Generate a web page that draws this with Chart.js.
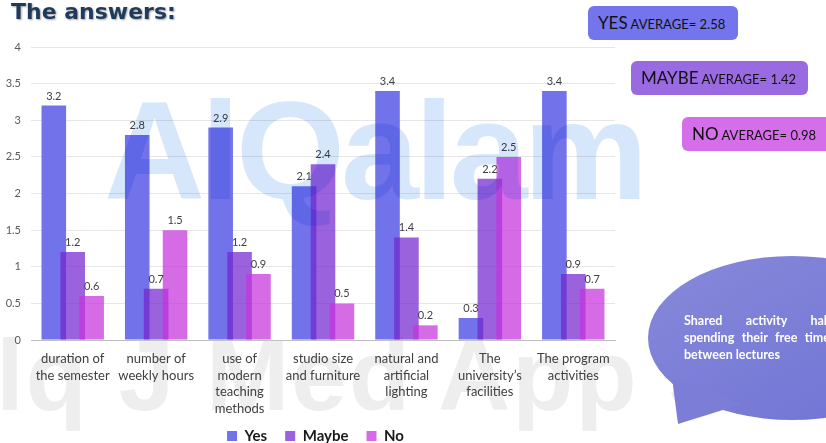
<!DOCTYPE html>
<html>
<head>
<meta charset="utf-8">
<script src="https://cdn.jsdelivr.net/npm/chart.js@4"></script>
<style>
  body { margin: 0; width: 826px; height: 443px; overflow: hidden; background: #fff; position: relative; font-family: Lato, sans-serif; }
  #chart { position: absolute; left: 0; top: 0; }
  .wm { position: absolute; pointer-events: none; mix-blend-mode: multiply; white-space: nowrap; }
  #wm1 { left: 104px; top: 70px; font: bold 140px "Liberation Sans", sans-serif; letter-spacing: -4px; color: #d6e7fc; }
  #wm2 { left: -4px; top: 318px; font: bold 100px "Liberation Sans", sans-serif; color: #eeeeee; letter-spacing: 2px; }
  .title { position: absolute; left: 11px; top: 0px; margin: 0; font: bold 22px "DejaVu Sans", sans-serif; color: #1f3b5c; text-shadow: 1px 1px 2px rgba(0,0,0,0.35); line-height: 24px; }
  .avg { position: absolute; height: 34px; line-height: 34px; border-radius: 6px; color: #111; font-size: 13px; padding-left: 10px; box-sizing: border-box; white-space: nowrap; }
  .avg b { font-weight: normal; font-size: 17px; }
  #bubble { position: absolute; left: 630px; top: 250px; }
  #btext { position: absolute; left: 684px; top: 312px; width: 146px; color: #fff; font: bold 12.5px Lato, sans-serif; line-height: 17px; }
  #btext div.j { text-align: justify; text-align-last: justify; }
</style>
</head>
<body>
<div class="wm" id="wm2">lq J Med App Sci</div>
<canvas id="chart" width="826" height="443"></canvas>
<div class="wm" id="wm1">AlQalam</div>
<h1 class="title">The answers:</h1>

<div class="avg" id="avg0" style="left:588px;top:6px;width:150px;background:#7474ec;"></div>
<div class="avg" id="avg1" style="left:631px;top:61px;width:177px;background:#9a6ae0;"></div>
<div class="avg" id="avg2" style="left:682px;top:117px;width:150px;background:#d46ee9;"></div>

<svg id="bubble" width="196" height="193" viewBox="630 250 196 193">
  <defs>
    <linearGradient id="bg" x1="0" y1="0" x2="1" y2="1">
      <stop offset="0" stop-color="#8789da"/>
      <stop offset="1" stop-color="#6f72d4"/>
    </linearGradient>
  </defs>
  <ellipse cx="792" cy="338" rx="144" ry="82" fill="url(#bg)"/>
  <path d="M672 378 L678 424 L742 404 Z" fill="#7b7dd6"/>
</svg>
<div id="btext">
  <div class="j">Shared activity hall</div>
  <div class="j">spending their free time</div>
  <div>between lectures</div>
</div>

<script>
// categorias e valores
const categories = [
  ['duration of', 'the semester'],
  ['number of', 'weekly hours'],
  ['use of', 'modern', 'teaching', 'methods'],
  ['studio size', 'and furniture'],
  ['natural and', 'artificial', 'lighting'],
  ['The', 'university\u2019s', 'facilities'],
  ['The program', 'activities']
];
const yesValues = [3.2, 2.8, 2.9, 2.1, 3.4, 0.3, 3.4];
const maybeValues = [1.2, 0.7, 1.2, 2.4, 1.4, 2.2, 0.9];
const noValues = [0.6, 1.5, 0.9, 0.5, 0.2, 2.5, 0.7];
const seriesNames = ['Yes', 'Maybe', 'No'];
const averageNames = ['YES', 'MAYBE', 'NO'];
const averageValues = ['2.58', '1.42', '0.98'];

averageNames.forEach((n, i) => {
  document.getElementById('avg' + i).innerHTML = '<b>' + n + '</b> AVERAGE= ' + averageValues[i];
});

// desenha as series na ordem (Yes embaixo, No por cima) + rotulos
const drawInOrder = {
  id: 'drawInOrder',
  beforeDatasetsDraw(chart) {
    const ctx = chart.ctx;
    const area = chart.chartArea;
    ctx.save();
    ctx.beginPath();
    ctx.rect(area.left, area.top - 30, area.width, area.height + 30);
    ctx.clip();
    chart.getSortedVisibleDatasetMetas().forEach(meta => meta.controller.draw());
    ctx.restore();

    ctx.save();
    ctx.font = '11px Lato';
    ctx.fillStyle = '#404040';
    ctx.textAlign = 'center';
    ctx.textBaseline = 'alphabetic';
    chart.data.datasets.forEach((ds, i) => {
      chart.getDatasetMeta(i).data.forEach((bar, j) => {
        ctx.fillText(ds.data[j], bar.x, bar.y - 6);
      });
    });
    ctx.restore();
    return false;
  }
};

// legenda um pouco mais para a direita e para cima
const moveLegend = {
  id: 'moveLegend',
  afterLayout(chart) {
    const l = chart.legend;
    l.left += 8; l.right += 8;
    l.top -= 9.5; l.bottom -= 9.5;
  }
};

const ctx = document.getElementById('chart').getContext('2d');
new Chart(ctx, {
  type: 'bar',
  data: {
    labels: categories,
    datasets: [
      { label: seriesNames[0], data: yesValues, backgroundColor: '#7272ea' },
      { label: seriesNames[1], data: maybeValues, backgroundColor: 'rgba(115,37,206,0.72)' },
      { label: seriesNames[2], data: noValues, backgroundColor: 'rgba(197,51,220,0.72)' }
    ]
  },
  options: {
    responsive: false,
    animation: false,
    layout: { padding: { top: 47, right: 211, left: 0, bottom: -20 } },
    datasets: {
      bar: { categoryPercentage: 0.68, barPercentage: 1.3, borderWidth: 0 }
    },
    plugins: {
      tooltip: { enabled: false },
      legend: {
        position: 'bottom',
        labels: {
          boxWidth: 10,
          boxHeight: 10,
          padding: 18,
          color: '#1a1a1a',
          font: { family: 'Lato', size: 15, weight: 'bold' }
        }
      }
    },
    scales: {
      x: {
        grid: { display: false, drawTicks: false },
        border: { color: '#bfbfbf', width: 1 },
        ticks: {
          color: '#404040',
          padding: 10,
          maxRotation: 0,
          autoSkip: false,
          font: { family: 'Lato', size: 13, lineHeight: 1.3 }
        },
        afterFit: s => { s.height = 80; }
      },
      y: {
        min: 0,
        max: 4,
        grid: { color: '#e6e6e6', drawTicks: false },
        border: { display: false },
        ticks: {
          stepSize: 0.5,
          color: '#595959',
          padding: 10,
          font: { family: 'Lato', size: 11 },
          callback: v => String(v)
        },
        afterFit: s => { s.width = 31; }
      }
    }
  },
  plugins: [drawInOrder, moveLegend]
});
</script>
</body>
</html>
